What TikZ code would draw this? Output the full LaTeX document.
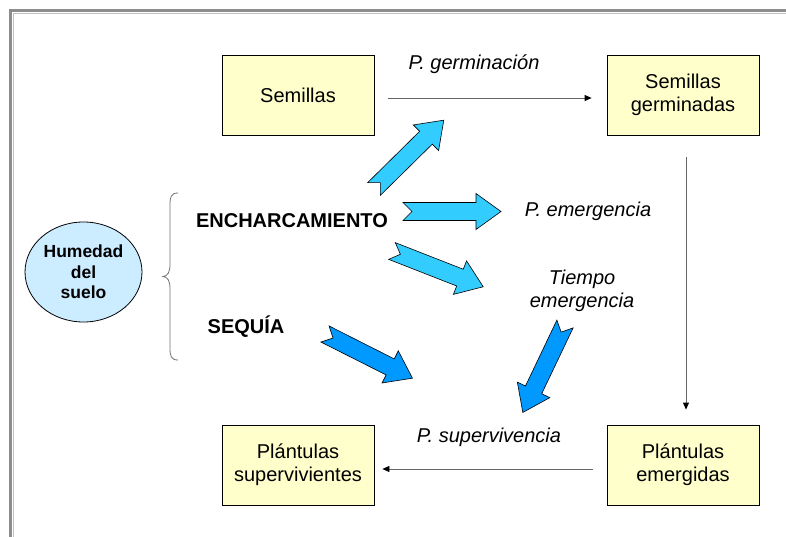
\documentclass[tikz,border=0pt]{standalone}
\usepackage{fontspec}
\setmainfont{Liberation Sans}
\usetikzlibrary{arrows.meta,shapes.geometric}
\definecolor{cajaamarilla}{HTML}{FFFFCC}
\definecolor{azulclaro}{HTML}{33CCFF}
\definecolor{azulfuerte}{HTML}{0099FF}
\definecolor{azulsuelo}{HTML}{CCECFF}
\begin{document}
\begin{tikzpicture}[x=1pt,y=-1pt,font=\fontsize{20}{23}\selectfont,
	caja/.style={draw=black,line width=0.8pt,fill=cajaamarilla,minimum width=152pt,minimum height=80pt,align=center,inner sep=0pt},
	etiq/.style={font=\fontsize{20}{23}\selectfont\itshape,align=center,anchor=base},
	factor/.style={font=\fontsize{20}{23}\selectfont\bfseries,anchor=base},
	flecha/.style={draw=black!60,line width=0.8pt,-{Triangle[length=7pt,width=6pt,color=black]}}]
				\newcommand\BloqueFlecha[4]{% x, y, angulo, color
					\begin{scope}[shift={(#1,#2)},rotate=#3]
						\filldraw[fill=#4,draw=black,line width=0.6pt] (0,-9) -- (73,-9) -- (73,-18) -- (98,0) -- (73,18) -- (73,9) -- (0,9) -- (9,0) -- cycle;
					\end{scope}
				}
				\useasboundingbox (0,0) rectangle (786,537);
				\fill[white] (0,0) rectangle (786,537);
				% marco
				\draw[black!45,line width=3pt] (10.5,537) -- (10.5,10.5) -- (786,10.5);
				\draw[black!25,line width=1pt] (13.5,537) -- (13.5,13.5) -- (786,13.5);
				% cajas
				\node[caja] (semillas) at (298,95) {Semillas};
				\node[caja] (germinadas) at (683,95) {Semillas\\germinadas};
				\node[caja] (supervivientes) at (298,465) {Plántulas\\supervivientes};
				\node[caja] (emergidas) at (683,465) {Plántulas\\emergidas};
				\node[ellipse,draw=black,line width=0.8pt,fill=azulsuelo,minimum width=117pt,minimum height=100pt,inner sep=0pt,align=center,font=\fontsize{17.5}{20.5}\selectfont\bfseries] (humedad) at (83.5,272) {Humedad\\del\\suelo};
				% textos
				\node[etiq] (pgerm) at (474,70) {P. germinación};
				\node[etiq] (pemerg) at (588,217) {P. emergencia};
				\node[etiq,anchor=center] (tiempo) at (582,291) {Tiempo\\emergencia};
				\node[etiq] (psuperv) at (489,442) {P. supervivencia};
				\node[factor] (encharc) at (292,228) {ENCHARCAMIENTO};
				\node[factor] (sequia) at (246,333) {SEQUÍA};
				% llave
				\draw[black!55,line width=0.8pt] (178,193) .. controls (171,193) and (170,197) .. (170,205) -- (170,264) .. controls (170,272) and (168,276) .. (163,276.5) .. controls (168,277) and (170,281) .. (170,289) -- (170,348) .. controls (170,356) and (171,360) .. (178,360);
				% flechas finas
				\draw[flecha] ([xshift=14pt,yshift=-3pt]semillas.east) -- ([xshift=-15pt,yshift=-3pt]germinadas.west);
				\draw[flecha] ([xshift=3pt,yshift=-22pt]germinadas.south) -- ([xshift=3pt,yshift=15pt]emergidas.north);
				\draw[flecha] ([xshift=-14pt,yshift=-4pt]emergidas.west) -- ([xshift=8pt,yshift=-4pt]supervivientes.east);
				% flechas de bloque
				\BloqueFlecha{374}{189}{44.6}{azulclaro}
				\BloqueFlecha{403}{211.5}{0}{azulclaro}
				\BloqueFlecha{392}{251}{-21.4}{azulclaro}
				\BloqueFlecha{325}{334}{-26.8}{azulfuerte}
				\BloqueFlecha{565}{324}{-115.5}{azulfuerte}
			\end{tikzpicture}
\end{document}
